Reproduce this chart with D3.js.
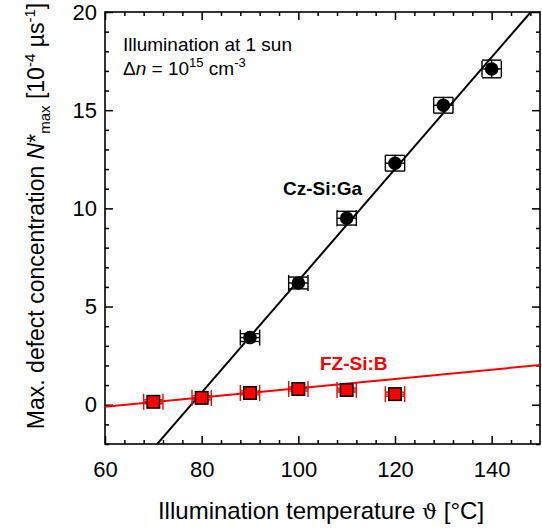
<!DOCTYPE html>
<html>
<head>
<meta charset="utf-8">
<script src="https://cdn.jsdelivr.net/npm/d3@7"></script>
<style>
  html, body { margin: 0; padding: 0; background: #fff; }
  svg { display: block; font-family: "Liberation Sans", Arial, sans-serif; }
</style>
</head>
<body>
<svg id="chart" width="542" height="530"></svg>
<script>
// Cz-Si:Ga series (black circles)
const czTemps = [90, 100, 110, 120, 130, 140];
const czValues = [3.42, 6.2, 9.5, 12.3, 15.25, 17.1];
const czTempErr = [2, 2, 2, 2, 2, 2];
const czValErr = [0.2, 0.3, 0.35, 0.4, 0.4, 0.45];

// FZ-Si:B series (red squares)
const fzTemps = [70, 80, 90, 100, 110, 120];
const fzValues = [0.15, 0.35, 0.6, 0.8, 0.75, 0.54];
const fzTempErr = [2, 2, 2, 2, 2, 2];
const fzValErr = [0.1, 0.1, 0.1, 0.1, 0.1, 0.1];

// Linear fits: [slope, intercept]
const czFit = [0.2846, -22.15];
const fzFit = [0.02356, -1.513];

// Axis ticks
const xMajor = [60, 80, 100, 120, 140];
const xMinor = d3.range(60, 151, 4).filter(v => v % 20 !== 0);
const yMajor = [0, 5, 10, 15, 20];
const yMinor = d3.range(-2, 21, 1).filter(v => v % 5 !== 0);

const svg = d3.select("#chart");
const L = 105, R = 540, T = 12, B = 444;
const x = d3.scaleLinear().domain([60, 150]).range([L, R]);
const y = d3.scaleLinear().domain([-2, 20]).range([B, T]);

const red = "#ff0000";

// clip region for the plot area
svg.append("defs").append("clipPath").attr("id", "plotClip")
  .append("rect").attr("x", L).attr("y", T).attr("width", R - L).attr("height", B - T);

// ---- axes with inward ticks ----
function styleAxis(g) {
  g.select(".domain").remove();
  g.selectAll(".tick line").attr("stroke", "#000").attr("stroke-width", 1.5);
  g.selectAll("text").attr("fill", "#000").style("font-size", "22px")
    .style("font-family", "'Liberation Sans', Arial, sans-serif");
}
const fmt = d3.format("d");
// bottom
svg.append("g").attr("transform", `translate(0,${B})`)
  .call(d3.axisBottom(x).tickValues(xMajor).tickSize(-8).tickPadding(17).tickFormat(fmt)).call(styleAxis);
svg.append("g").attr("transform", `translate(0,${B})`)
  .call(d3.axisBottom(x).tickValues(xMinor).tickSize(-4).tickFormat("")).call(styleAxis);
// top
svg.append("g").attr("transform", `translate(0,${T})`)
  .call(d3.axisTop(x).tickValues(xMajor).tickSize(-8).tickFormat("")).call(styleAxis);
svg.append("g").attr("transform", `translate(0,${T})`)
  .call(d3.axisTop(x).tickValues(xMinor).tickSize(-4).tickFormat("")).call(styleAxis);
// left
svg.append("g").attr("transform", `translate(${L},0)`)
  .call(d3.axisLeft(y).tickValues(yMajor).tickSize(-8).tickPadding(8).tickFormat(fmt)).call(styleAxis);
svg.append("g").attr("transform", `translate(${L},0)`)
  .call(d3.axisLeft(y).tickValues(yMinor).tickSize(-4).tickFormat("")).call(styleAxis);
// right
svg.append("g").attr("transform", `translate(${R},0)`)
  .call(d3.axisRight(y).tickValues(yMajor).tickSize(-8).tickFormat("")).call(styleAxis);
svg.append("g").attr("transform", `translate(${R},0)`)
  .call(d3.axisRight(y).tickValues(yMinor).tickSize(-4).tickFormat("")).call(styleAxis);

// frame
svg.append("rect").attr("x", L).attr("y", T).attr("width", R - L).attr("height", B - T)
  .attr("fill", "none").attr("stroke", "#000").attr("stroke-width", 1.6);

// ---- fit lines ----
const plot = svg.append("g").attr("clip-path", "url(#plotClip)");
function fitLine(fit, color) {
  const pts = [60, 150].map(t => [t, fit[0] * t + fit[1]]);
  plot.append("path")
    .attr("d", d3.line().x(d => x(d[0])).y(d => y(d[1]))(pts))
    .attr("fill", "none").attr("stroke", color).attr("stroke-width", 2);
}
fitLine(czFit, "#000");
fitLine(fzFit, red);

// ---- error bars ----
const capH = 8;   // half height of temperature-error caps
function errorBars(temps, vals, tErr, vErr, color) {
  const g = svg.append("g").attr("stroke", color).attr("stroke-width", 1.4).attr("fill", "none");
  temps.forEach((t, i) => {
    const cx = x(t), cy = y(vals[i]);
    const x0 = x(t - tErr[i]), x1 = x(t + tErr[i]);
    const y0 = y(vals[i] - vErr[i]), y1 = y(vals[i] + vErr[i]);
    // horizontal bar with caps
    g.append("line").attr("x1", x0).attr("x2", x1).attr("y1", cy).attr("y2", cy);
    g.append("line").attr("x1", x0).attr("x2", x0).attr("y1", cy - capH).attr("y2", cy + capH);
    g.append("line").attr("x1", x1).attr("x2", x1).attr("y1", cy - capH).attr("y2", cy + capH);
    // vertical bar with wide caps
    g.append("line").attr("x1", cx).attr("x2", cx).attr("y1", y0).attr("y2", y1);
    g.append("line").attr("x1", x0).attr("x2", x1).attr("y1", y0).attr("y2", y0);
    g.append("line").attr("x1", x0).attr("x2", x1).attr("y1", y1).attr("y2", y1);
  });
}
errorBars(czTemps, czValues, czTempErr, czValErr, "#000");
errorBars(fzTemps, fzValues, fzTempErr, fzValErr, red);

// ---- markers ----
svg.append("g").selectAll("circle").data(czTemps).join("circle")
  .attr("cx", d => x(d)).attr("cy", (d, i) => y(czValues[i])).attr("r", 6.8)
  .attr("fill", "#000");

const sq = 12.5;
svg.append("g").selectAll("rect").data(fzTemps).join("rect")
  .attr("x", d => x(d) - sq / 2).attr("y", (d, i) => y(fzValues[i]) - sq / 2)
  .attr("width", sq).attr("height", sq)
  .attr("fill", red).attr("stroke", "#000").attr("stroke-width", 1.5);

// ---- annotations ----
svg.append("text").attr("x", 123).attr("y", 51).style("font-size", "19px").text("Illumination at 1 sun");
const dn = svg.append("text").attr("x", 123).attr("y", 75).style("font-size", "19px");
dn.append("tspan").text("\u0394");
dn.append("tspan").style("font-style", "italic").text("n");
dn.append("tspan").text(" = 10");
dn.append("tspan").attr("dy", -8).style("font-size", "13px").text("15");
dn.append("tspan").attr("dy", 8).text(" cm");
dn.append("tspan").attr("dy", -8).style("font-size", "13px").text("-3");

svg.append("text").attr("x", 283).attr("y", 195).style("font-size", "19px").style("font-weight", "bold")
  .attr("fill", "#000").text("Cz-Si:Ga");
svg.append("text").attr("x", 320).attr("y", 370).style("font-size", "19px").style("font-weight", "bold")
  .attr("fill", red).text("FZ-Si:B");

// ---- axis titles ----
const xt = svg.append("text").attr("x", 321).attr("y", 519).attr("text-anchor", "middle").style("font-size", "24px");
xt.append("tspan").text("Illumination temperature ");
xt.append("tspan").style("font-family", "'DejaVu Serif', serif").style("font-size", "21px").text("\u03D1");
xt.append("tspan").text(" [\u00B0C]");

const yt = svg.append("text").attr("transform", "translate(44,216) rotate(-90)")
  .attr("text-anchor", "middle").style("font-size", "23px");
yt.append("tspan").text("Max. defect concentration ");
yt.append("tspan").style("font-style", "italic").text("N");
yt.append("tspan").text("*");
yt.append("tspan").attr("dy", 6).style("font-size", "15px").text("max");
yt.append("tspan").attr("dy", -6).text(" [10");
yt.append("tspan").attr("dy", -9).style("font-size", "15px").text("-4");
yt.append("tspan").attr("dy", 9).text(" \u00B5s");
yt.append("tspan").attr("dy", -9).style("font-size", "15px").text("-1");
yt.append("tspan").attr("dy", 9).text("]");
</script>
</body>
</html>
